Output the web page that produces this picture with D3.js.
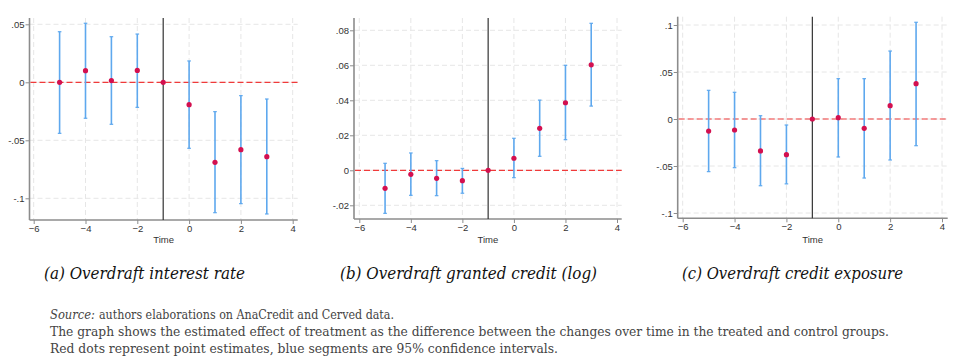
<!DOCTYPE html>
<html lang="en">
<head>
  <meta charset="utf-8"/>
  <title>Overdraft event study</title>
  <style>
    body { margin: 0; background: #fff; }
    svg { display: block; }
    .tick-label { font-family: "Liberation Sans", Arial, sans-serif; font-size: 9.5px; fill: #333; }
    .caption { font-family: "DejaVu Serif", serif; font-style: italic; font-size: 16.5px; fill: #111; }
    .note { font-family: "DejaVu Serif", serif; font-size: 12.5px; fill: #444; }
  </style>
</head>
<body>
<svg id="chart" width="957" height="363"></svg>

<script src="https://cdn.jsdelivr.net/npm/d3@7/dist/d3.min.js"></script>
<script>

  // event time
  let times = [-5, -4, -3, -2, -1, 0, 1, 2, 3];
  let xTicks = [-6, -4, -2, 0, 2, 4];

  // (a) interest rate
  let rateEst = [0, 0.010, 0.0015, 0.0102, 0, -0.0193, -0.069, -0.0581, -0.0641];
  let rateLo = [-0.044, -0.031, -0.0362, -0.0216, null, -0.0569, -0.1124, -0.1046, -0.1135];
  let rateHi = [0.0436, 0.0509, 0.0393, 0.0416, null, 0.0184, -0.0253, -0.0115, -0.0144];
  let rateTicks = [-0.1, -0.05, 0, 0.05];
  let rateTickLabels = ['-.1', '-.05', '0', '.05'];

  // (b) granted credit (log)
  let creditEst = [-0.0103, -0.0023, -0.0046, -0.0059, 0, 0.0069, 0.024, 0.0386, 0.0603];
  let creditLo = [-0.0246, -0.0143, -0.0145, -0.0131, null, -0.0042, 0.008, 0.0175, 0.0367];
  let creditHi = [0.004, 0.0099, 0.0055, 0.0011, null, 0.0183, 0.0401, 0.06, 0.084];
  let creditTicks = [-0.02, 0, 0.02, 0.04, 0.06, 0.08];
  let creditTickLabels = ['-.02', '0', '.02', '.04', '.06', '.08'];

  // (c) credit exposure
  let exposureEst = [-0.0128, -0.0117, -0.034, -0.038, 0, 0.0014, -0.0099, 0.0142, 0.0376];
  let exposureLo = [-0.056, -0.0518, -0.071, -0.069, null, -0.0404, -0.0628, -0.0436, -0.0284];
  let exposureHi = [0.0305, 0.0284, 0.0035, -0.0064, null, 0.0429, 0.0429, 0.0723, 0.1029];
  let exposureTicks = [-0.1, -0.05, 0, 0.05, 0.1];
  let exposureTickLabels = ['-.1', '-.05', '0', '.05', '.1'];

  let captions = [
    '(a) Overdraft interest rate',
    '(b) Overdraft granted credit (log)',
    '(c) Overdraft credit exposure'
  ];
  let notes = [
    'The graph shows the estimated effect of treatment as the difference between the changes over time in the treated and control groups.',
    'Red dots represent point estimates, blue segments are 95% confidence intervals.'
  ];

  // panel layout (pixel frames)
  let panels = [
    {est: rateEst, lo: rateLo, hi: rateHi, ticks: rateTicks, labels: rateTickLabels,
     axisX: 29.5, right: 297.7, top: 18, bottom: 220,
     xRange: [33.7, 292.7], yDomain: [-0.1, 0.05], yRange: [198.3, 24.3],
     cap: {x: 44, w: 201}},
    {est: creditEst, lo: creditLo, hi: creditHi, ticks: creditTicks, labels: creditTickLabels,
     axisX: 354, right: 621.7, top: 18, bottom: 219,
     xRange: [359.3, 617], yDomain: [-0.02, 0.08], yRange: [205.3, 30.3],
     cap: {x: 340, w: 257}},
    {est: exposureEst, lo: exposureLo, hi: exposureHi, ticks: exposureTicks, labels: exposureTickLabels,
     axisX: 677.7, right: 947.7, top: 16.7, bottom: 218.3,
     xRange: [682.7, 942], yDomain: [-0.1, 0.1], yRange: [213, 25],
     cap: {x: 682, w: 221}}
  ];

  let svg = d3.select('#chart');

  panels.forEach(function (p, i) {
    let x = d3.scaleLinear().domain([-6, 4]).range(p.xRange);
    let y = d3.scaleLinear().domain(p.yDomain).range(p.yRange);
    let g = svg.append('g');

    // grid
    g.selectAll('.hgrid')
      .data(p.ticks)
      .enter()
      .append('line')
      .attr('x1', p.axisX).attr('x2', p.right)
      .attr('y1', d => y(d)).attr('y2', d => y(d))
      .attr('stroke', '#e6e6e6').attr('stroke-dasharray', '5,3');
    g.selectAll('.vgrid')
      .data(xTicks)
      .enter()
      .append('line')
      .attr('x1', d => x(d)).attr('x2', d => x(d))
      .attr('y1', p.top).attr('y2', p.bottom)
      .attr('stroke', '#e6e6e6').attr('stroke-dasharray', '5,3');

    // axes
    let yAxis = d3.axisLeft(y)
      .tickValues(p.ticks)
      .tickSize(4)
      .tickFormat((d, k) => p.labels[k]);
    let ya = g.append('g').attr('transform', `translate(${p.axisX},0)`).call(yAxis);
    ya.select('.domain').attr('d', `M0,${p.top}V${p.bottom}`);

    let xAxis = d3.axisBottom(x).tickValues(xTicks).tickSize(4).tickFormat(d3.format('d'));
    let xa = g.append('g').attr('transform', `translate(0,${p.bottom})`).call(xAxis);
    xa.select('.domain').attr('d', `M${p.axisX},0H${p.right}`);

    [ya, xa].forEach(function (a) {
      a.select('.domain').attr('stroke', '#8c8c8c').attr('stroke-width', 1.6);
      a.selectAll('.tick line').attr('stroke', '#8c8c8c');
      a.selectAll('.tick text').attr('class', 'tick-label').attr('fill', null);
    });
    ya.selectAll('.tick text').attr('x', -5);
    xa.selectAll('.tick text').attr('y', 5);

    g.append('text')
      .attr('class', 'tick-label')
      .attr('x', (p.axisX + p.right) / 2)
      .attr('y', 243)
      .attr('text-anchor', 'middle')
      .text('Time');

    // reference lines
    g.append('line')
      .attr('x1', x(-1)).attr('x2', x(-1))
      .attr('y1', p.top).attr('y2', p.bottom)
      .attr('stroke', '#333').attr('stroke-width', 1.2);
    g.append('line')
      .attr('x1', p.axisX + 1).attr('x2', p.right)
      .attr('y1', y(0)).attr('y2', y(0))
      .attr('stroke', '#f03a3a').attr('stroke-width', 1.2)
      .attr('stroke-dasharray', '6,3');

    // confidence intervals
    let rows = times.map((t, k) => ({t: t, est: p.est[k], lo: p.lo[k], hi: p.hi[k]}));
    let ci = rows.filter(r => r.lo !== null);
    g.selectAll('.ci')
      .data(ci)
      .enter()
      .append('line')
      .attr('x1', d => x(d.t)).attr('x2', d => x(d.t))
      .attr('y1', d => y(d.lo)).attr('y2', d => y(d.hi))
      .attr('stroke', '#5ea8ee').attr('stroke-width', 1.6);
    ['lo', 'hi'].forEach(function (end) {
      g.selectAll('.cap-' + end)
        .data(ci)
        .enter()
        .append('line')
        .attr('x1', d => x(d.t) - 1.8).attr('x2', d => x(d.t) + 1.8)
        .attr('y1', d => y(d[end])).attr('y2', d => y(d[end]))
        .attr('stroke', '#5ea8ee').attr('stroke-width', 1.2);
    });

    // point estimates
    g.selectAll('.dot')
      .data(rows)
      .enter()
      .append('circle')
      .attr('cx', d => x(d.t))
      .attr('cy', d => y(d.est))
      .attr('r', 2.6)
      .attr('fill', '#d3104f');

    // caption
    svg.append('text')
      .attr('class', 'caption')
      .attr('x', p.cap.x)
      .attr('y', 279)
      .attr('textLength', p.cap.w)
      .attr('lengthAdjust', 'spacingAndGlyphs')
      .text(captions[i]);
  });

  // notes
  svg.append('text')
    .attr('class', 'note')
    .attr('x', 50)
    .attr('y', 319)
    .attr('font-style', 'italic')
    .attr('textLength', 45)
    .attr('lengthAdjust', 'spacingAndGlyphs')
    .text('Source:');
  svg.append('text')
    .attr('class', 'note')
    .attr('x', 99)
    .attr('y', 319)
    .attr('textLength', 295)
    .attr('lengthAdjust', 'spacingAndGlyphs')
    .text('authors elaborations on AnaCredit and Cerved data.');

  let noteWidths = [839, 508];
  notes.forEach(function (line, k) {
    svg.append('text')
      .attr('class', 'note')
      .attr('x', 50)
      .attr('y', 336 + k * 17)
      .attr('textLength', noteWidths[k])
      .attr('lengthAdjust', 'spacingAndGlyphs')
      .text(line);
  });

</script>
</body>
</html>
